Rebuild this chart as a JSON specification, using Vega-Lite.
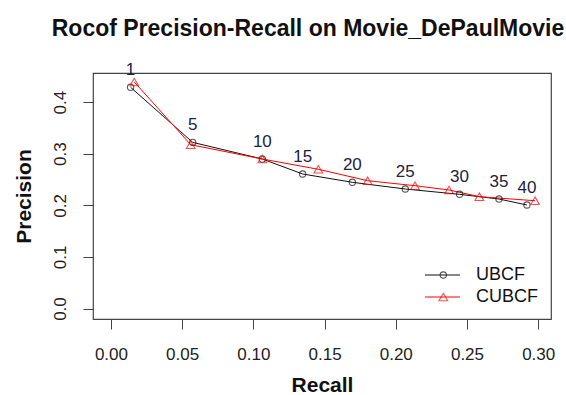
{
  "$schema": "https://vega.github.io/schema/vega-lite/v6.json",
  "width": 458,
  "height": 246,
  "autosize": {"type": "none"},
  "padding": {"left": 93, "top": 73, "right": 15, "bottom": 76},
  "background": "white",
  "config": {
    "font": "Liberation Sans",
    "view": {"stroke": "#444", "strokeWidth": 1.2},
    "axis": {"grid": false, "domain": false, "tickColor": "#444", "tickSize": 10, "labelFont": "Liberation Sans", "labelFontSize": 17, "labelColor": "#222", "titleFont": "Liberation Sans", "titleFontSize": 21, "titleFontWeight": "bold", "titleColor": "#111"}
  },
  "title": {"text": "Rocof Precision-Recall on Movie_DePaulMovie", "fontSize": 23, "fontWeight": "bold", "font": "Liberation Sans", "color": "#111", "anchor": "middle", "dx": -14, "offset": 20},
  "data": {"values": [
    {"series": "UBCF", "n": "1", "recall": 0.0138, "precision": 0.4287},
    {"series": "UBCF", "n": "5", "recall": 0.0574, "precision": 0.322},
    {"series": "UBCF", "n": "10", "recall": 0.1063, "precision": 0.2897},
    {"series": "UBCF", "n": "15", "recall": 0.1346, "precision": 0.2607},
    {"series": "UBCF", "n": "20", "recall": 0.1695, "precision": 0.2446},
    {"series": "UBCF", "n": "25", "recall": 0.2067, "precision": 0.2316},
    {"series": "UBCF", "n": "30", "recall": 0.2448, "precision": 0.2213},
    {"series": "UBCF", "n": "35", "recall": 0.2725, "precision": 0.2122},
    {"series": "UBCF", "n": "40", "recall": 0.2921, "precision": 0.2006},
    {"series": "CUBCF", "n": "1", "recall": 0.0164, "precision": 0.439},
    {"series": "CUBCF", "n": "5", "recall": 0.056, "precision": 0.3175},
    {"series": "CUBCF", "n": "10", "recall": 0.1063, "precision": 0.2897},
    {"series": "CUBCF", "n": "15", "recall": 0.1456, "precision": 0.2698},
    {"series": "CUBCF", "n": "20", "recall": 0.1802, "precision": 0.2477},
    {"series": "CUBCF", "n": "25", "recall": 0.2135, "precision": 0.238},
    {"series": "CUBCF", "n": "30", "recall": 0.2374, "precision": 0.2297},
    {"series": "CUBCF", "n": "35", "recall": 0.2587, "precision": 0.2167},
    {"series": "CUBCF", "n": "40", "recall": 0.2978, "precision": 0.2089}
  ]},
  "encoding": {
    "x": {"field": "recall", "type": "quantitative", "title": "Recall",
      "scale": {"domain": [-0.0126, 0.309], "nice": false, "zero": false},
      "axis": {"values": [0, 0.05, 0.1, 0.15, 0.2, 0.25, 0.3], "format": ".2f", "labelPadding": 17, "titlePadding": 12, "labelFlush": false}},
    "y": {"field": "precision", "type": "quantitative", "title": "Precision",
      "scale": {"domain": [-0.0203, 0.4564], "nice": false, "zero": false},
      "axis": {"values": [0, 0.1, 0.2, 0.3, 0.4], "format": ".1f", "labelAngle": 270, "labelAlign": "center", "labelBaseline": "bottom", "labelPadding": 14, "titlePadding": 17, "labelFlush": false}}
  },
  "layer": [
    {
      "mark": {"type": "line", "strokeWidth": 1},
      "encoding": {
        "detail": {"field": "series"},
        "order": {"field": "recall", "type": "quantitative"},
        "stroke": {"field": "series", "type": "nominal", "sort": "descending",
          "scale": {"range": ["#111111", "#ff0000"]},
          "legend": {"title": null, "orient": "none", "legendX": 340.5, "legendY": 193, "padding": 0,
            "symbolType": "M-4,0H4", "symbolSize": 77, "symbolStrokeWidth": 1,
            "labelFontSize": 18, "labelColor": "#111", "labelOffset": 24.5, "rowPadding": 4}}
      }
    },
    {
      "mark": {"type": "point", "filled": false, "strokeWidth": 1.1},
      "encoding": {
        "color": {"field": "series", "type": "nominal",
          "scale": {"domain": ["UBCF", "CUBCF"], "range": ["#111111", "#ff0000"]},
          "legend": {"title": null, "orient": "none", "legendX": 341.3, "legendY": 193, "padding": 0,
            "symbolSize": 55, "symbolStrokeWidth": 1.1,
            "labelFontSize": 18, "labelExpr": "''", "labelOffset": 30, "rowPadding": 4}},
        "shape": {"field": "series", "type": "nominal",
          "scale": {"domain": ["UBCF", "CUBCF"], "range": ["circle", "triangle-up"]}},
        "size": {"field": "series", "type": "nominal",
          "scale": {"domain": ["UBCF", "CUBCF"], "range": [40, 75]}, "legend": null}
      }
    },
    {
      "transform": [{"filter": "datum.series === 'UBCF'"}],
      "mark": {"type": "text", "dy": -17, "fontSize": 17, "color": "#22223a", "font": "Liberation Sans"},
      "encoding": {"text": {"field": "n"}}
    }
  ]
}
